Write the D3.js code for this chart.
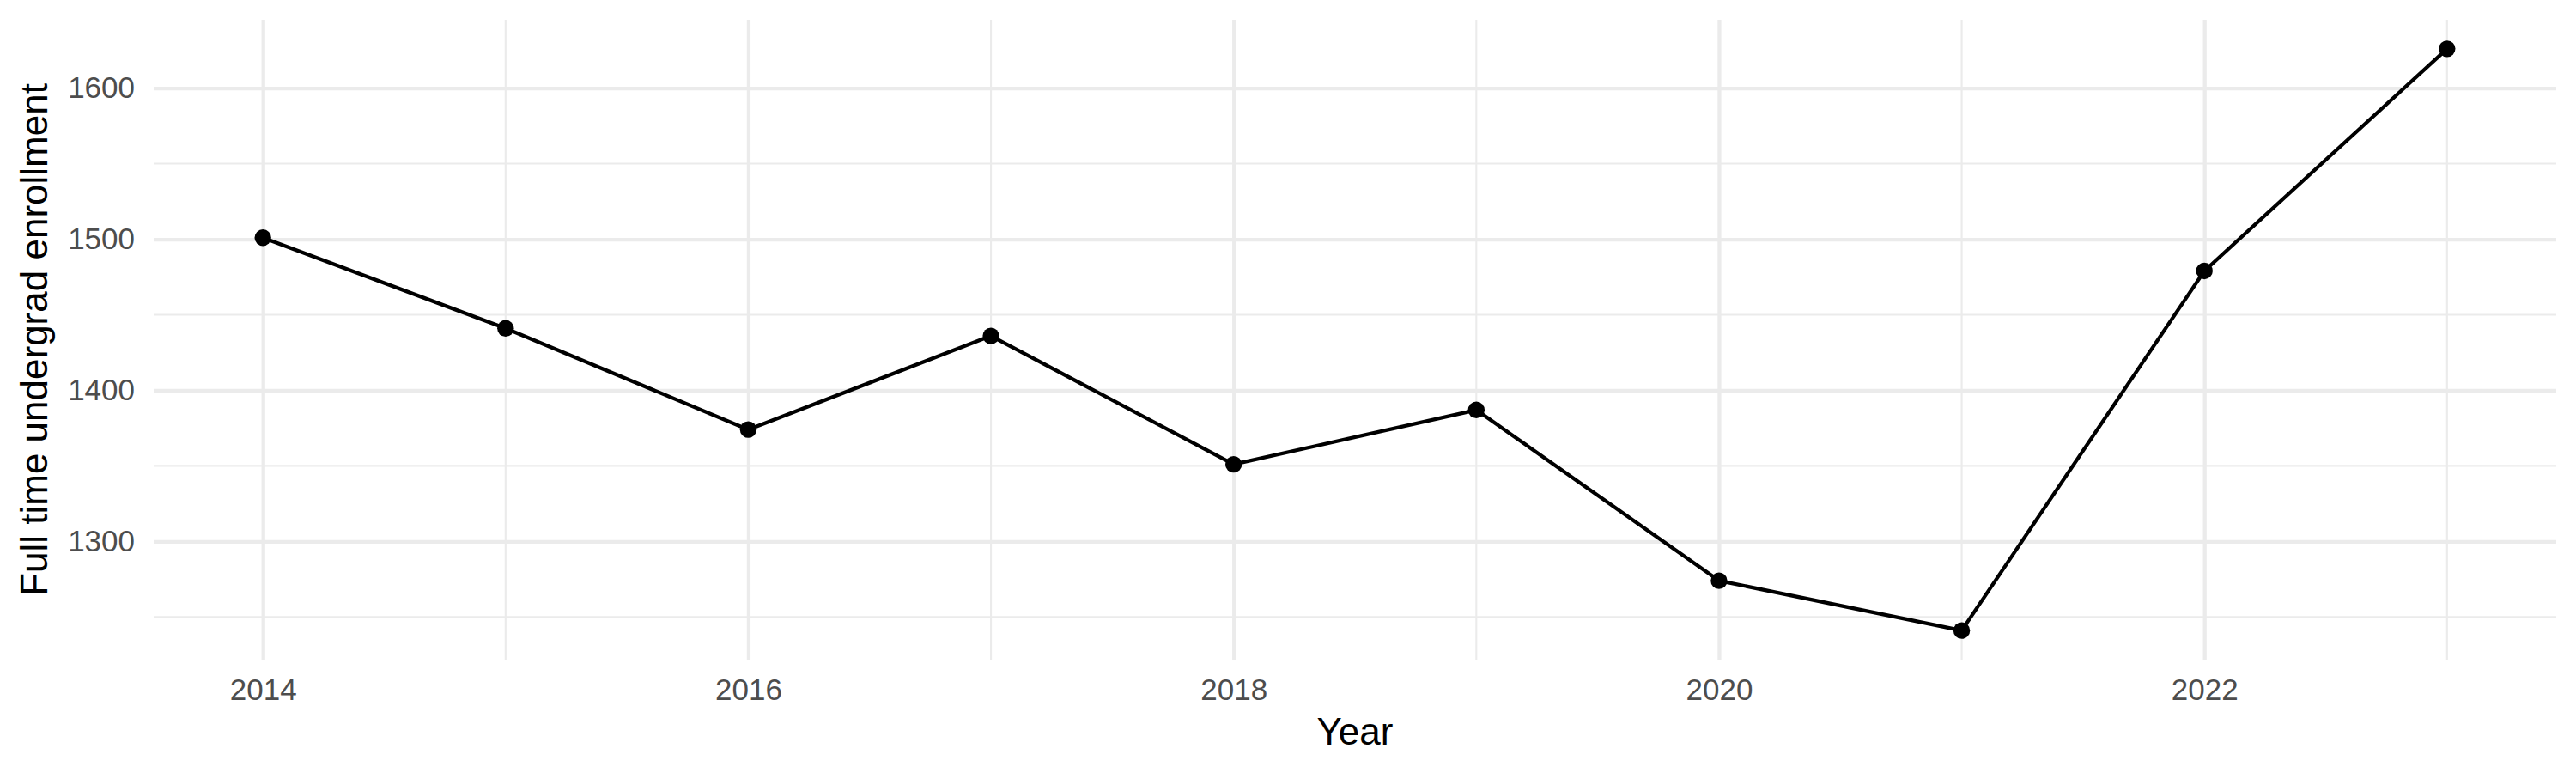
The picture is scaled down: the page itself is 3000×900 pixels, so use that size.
<!DOCTYPE html>
<html>
<head>
<meta charset="utf-8">
<script src="https://cdn.jsdelivr.net/npm/d3@7"></script>
<style>
  body { margin: 0; background: #fff; }
  svg { display: block; font-family: "Liberation Sans", Arial, Helvetica, sans-serif; }
</style>
</head>
<body>
<svg id="chart"></svg>
<script>
// enrollment by year
var years = [2014, 2015, 2016, 2017, 2018, 2019, 2020, 2021, 2022, 2023];
var enrollment = [1501, 1441, 1374, 1436, 1351, 1387, 1274, 1241, 1479, 1626];

var xMajor = [2014, 2016, 2018, 2020, 2022];
var xMinor = [2015, 2017, 2019, 2021, 2023];
var yMajor = [1300, 1400, 1500, 1600];
var yMinor = [1250, 1350, 1450, 1550];

var xTitle = "Year";
var yTitle = "Full time undergrad enrollment";

var width = 3000,
    height = 900;
var margin = {top: 23, right: 23, bottom: 132, left: 179};
var plotW = width - margin.left - margin.right,
    plotH = height - margin.top - margin.bottom;

var svg = d3.select("#chart")
    .attr("width", width)
    .attr("height", height);

var data = years.map(function(d, i) {
    return {year: d, value: enrollment[i]};
});

// ggplot style 5% padding on each side
function expand(ext) {
    var pad = (ext[1] - ext[0]) * 0.05;
    return [ext[0] - pad, ext[1] + pad];
}

var x = d3.scaleLinear()
    .domain(expand(d3.extent(years)))
    .range([0, plotW]);

var y = d3.scaleLinear()
    .domain(expand(d3.extent(enrollment)))
    .range([plotH, 0]);

var g = svg.append("g")
    .attr("transform", "translate(" + margin.left + "," + margin.top + ")");

var gridColor = "#EBEBEB";
var majorW = 4.27,
    minorW = 2.13;

// minor grid
g.selectAll(".minor-y").data(yMinor).enter().append("line")
    .attr("class", "minor-y")
    .attr("x1", 0).attr("x2", plotW)
    .attr("y1", function(d) { return y(d); })
    .attr("y2", function(d) { return y(d); })
    .attr("stroke", gridColor)
    .attr("stroke-width", minorW);

g.selectAll(".minor-x").data(xMinor).enter().append("line")
    .attr("class", "minor-x")
    .attr("y1", 0).attr("y2", plotH)
    .attr("x1", function(d) { return x(d); })
    .attr("x2", function(d) { return x(d); })
    .attr("stroke", gridColor)
    .attr("stroke-width", minorW);

// major grid + labels via axes
var xAxis = g.append("g")
    .attr("transform", "translate(0," + plotH + ")")
    .call(d3.axisBottom(x)
        .tickValues(xMajor)
        .tickFormat(d3.format("d"))
        .tickSize(-plotH)
        .tickPadding(22));

var yAxis = g.append("g")
    .call(d3.axisLeft(y)
        .tickValues(yMajor)
        .tickFormat(d3.format("d"))
        .tickSize(-plotW)
        .tickPadding(22));

[xAxis, yAxis].forEach(function(ax) {
    ax.select(".domain").remove();
    ax.selectAll(".tick line")
        .attr("stroke", gridColor)
        .attr("stroke-width", majorW);
    ax.selectAll(".tick text")
        .attr("fill", "#4D4D4D")
        .style("font-size", "35px")
        .style("font-family", "'Liberation Sans', Arial, sans-serif");
});

// line and points
var line = d3.line()
    .x(function(d) { return x(d.year); })
    .y(function(d) { return y(d.value); });

g.append("path")
    .datum(data)
    .attr("fill", "none")
    .attr("stroke", "#000")
    .attr("stroke-width", 4.27)
    .attr("stroke-linejoin", "round")
    .attr("d", line);

g.selectAll(".dot").data(data).enter().append("circle")
    .attr("class", "dot")
    .attr("cx", function(d) { return x(d.year); })
    .attr("cy", function(d) { return y(d.value); })
    .attr("r", 9.7)
    .attr("fill", "#000");

// axis titles
svg.append("text")
    .attr("x", margin.left + plotW / 2)
    .attr("y", 867)
    .attr("text-anchor", "middle")
    .style("font-size", "44px")
    .attr("fill", "#000")
    .text(xTitle);

svg.append("text")
    .attr("transform", "translate(55," + (margin.top + plotH / 2) + ") rotate(-90)")
    .attr("text-anchor", "middle")
    .style("font-size", "44px")
    .attr("fill", "#000")
    .text(yTitle);
</script>
</body>
</html>
